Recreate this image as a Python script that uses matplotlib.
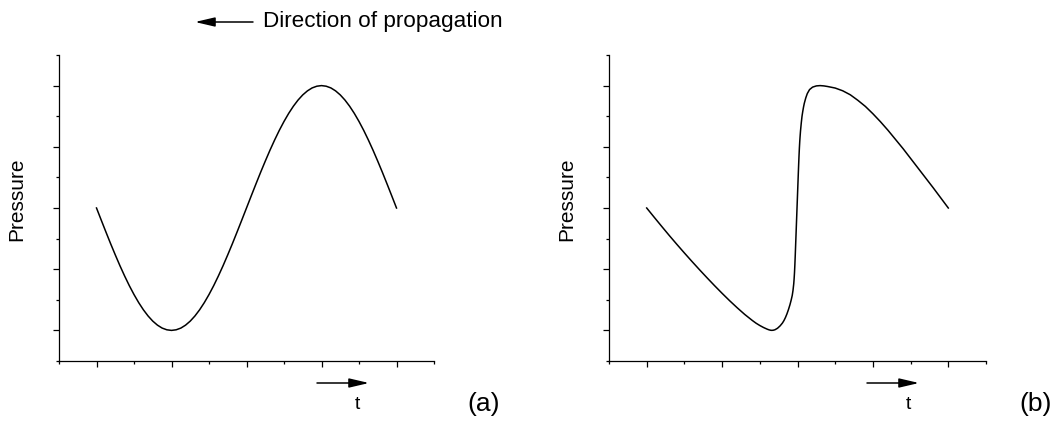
import matplotlib
matplotlib.use("Agg")
import matplotlib.pyplot as plt
from matplotlib.ticker import MultipleLocator, NullFormatter

plt.rcParams['font.family'] = ['Liberation Sans', 'DejaVu Sans']

# (a) sinusoidal pressure wave
t_a = [1.0, 1.0625, 1.125, 1.1875, 1.25, 1.3125, 1.375, 1.4375,
       1.5, 1.5625, 1.625, 1.6875, 1.75, 1.8125, 1.875, 1.9375,
       2.0, 2.0625, 2.125, 2.1875, 2.25, 2.3125, 2.375, 2.4375,
       2.5, 2.5625, 2.625, 2.6875, 2.75, 2.8125, 2.875, 2.9375,
       3.0, 3.0625, 3.125, 3.1875, 3.25, 3.3125, 3.375, 3.4375,
       3.5, 3.5625, 3.625, 3.6875, 3.75, 3.8125, 3.875, 3.9375,
       4.0, 4.0625, 4.125, 4.1875, 4.25, 4.3125, 4.375, 4.4375,
       4.5, 4.5625, 4.625, 4.6875, 4.75, 4.8125, 4.875, 4.9375, 5.0]
p_a = [0.0, -0.196, -0.390, -0.581, -0.765, -0.943, -1.111, -1.269,
       -1.414, -1.546, -1.663, -1.764, -1.848, -1.914, -1.962, -1.990,
       -2.0, -1.990, -1.962, -1.914, -1.848, -1.764, -1.663, -1.546,
       -1.414, -1.269, -1.111, -0.943, -0.765, -0.581, -0.390, -0.196,
       0.0, 0.196, 0.390, 0.581, 0.765, 0.943, 1.111, 1.269,
       1.414, 1.546, 1.663, 1.764, 1.848, 1.914, 1.962, 1.990,
       2.0, 1.990, 1.962, 1.914, 1.848, 1.764, 1.663, 1.546,
       1.414, 1.269, 1.111, 0.943, 0.765, 0.581, 0.390, 0.196, 0.0]

# (b) steepened wave with a shock front
t_b = [1.0, 1.1, 1.2, 1.3, 1.4, 1.5, 1.6, 1.7, 1.8, 1.9, 2.0,
       2.1, 2.2, 2.3, 2.4, 2.45, 2.5, 2.55, 2.6, 2.625, 2.65, 2.675,
       2.70, 2.735, 2.77, 2.80, 2.82, 2.84, 2.86, 2.88, 2.90, 2.915, 2.93,
       2.94, 2.95, 2.955, 2.96, 2.965, 2.97, 2.98, 2.99, 3.00, 3.01,
       3.015, 3.02, 3.025, 3.03, 3.035, 3.04, 3.05, 3.06, 3.07, 3.08,
       3.09, 3.11, 3.13, 3.16, 3.20, 3.25, 3.30, 3.35, 3.40, 3.50,
       3.60, 3.70, 3.80, 3.90, 4.0, 4.1, 4.2, 4.3, 4.4, 4.5,
       4.6, 4.7, 4.8, 4.9, 5.0]
p_b = [0.0, -0.152, -0.302, -0.450, -0.594, -0.735, -0.873, -1.008, -1.140, -1.269, -1.394,
       -1.515, -1.630, -1.739, -1.837, -1.882, -1.920, -1.953, -1.981, -1.992, -1.999, -1.998,
       -1.99, -1.965, -1.925, -1.88, -1.84, -1.79, -1.73, -1.66, -1.58, -1.51, -1.43,
       -1.35, -1.24, -1.16, -1.06, -0.93, -0.78, -0.45, -0.12, 0.21, 0.54,
       0.70, 0.85, 0.98, 1.09, 1.18, 1.26, 1.39, 1.50, 1.58, 1.65,
       1.71, 1.80, 1.87, 1.935, 1.975, 1.995, 2.0, 1.995, 1.985, 1.96,
       1.915, 1.85, 1.76, 1.66, 1.54, 1.41, 1.27, 1.12, 0.97, 0.81,
       0.65, 0.49, 0.33, 0.165, 0.0]

W, H = 1059, 423
fig = plt.figure(figsize=(W / 100, H / 100), dpi=100)


def px(x, y):
    # pixel position (from top-left) -> figure fraction
    return (x / W, 1 - y / H)


def make_axes(left, right, top=55, bottom=361):
    ax = fig.add_axes([left / W, 1 - bottom / H, (right - left) / W, (bottom - top) / H])
    ax.set_xlim(0.5, 5.5)
    ax.set_ylim(-2.5, 2.5)
    for side in ('top', 'right'):
        ax.spines[side].set_visible(False)
    for side in ('left', 'bottom'):
        ax.spines[side].set_linewidth(0.9)
    ax.xaxis.set_major_locator(MultipleLocator(1))
    ax.xaxis.set_minor_locator(MultipleLocator(0.5))
    ax.yaxis.set_major_locator(MultipleLocator(1))
    ax.yaxis.set_minor_locator(MultipleLocator(0.5))
    ax.xaxis.set_major_formatter(NullFormatter())
    ax.yaxis.set_major_formatter(NullFormatter())
    ax.tick_params(which='major', direction='out', length=4.2, width=0.9)
    ax.tick_params(which='minor', direction='out', length=2.2, width=0.9)
    return ax


ax1 = make_axes(59, 434)
ax1.plot(t_a, p_a, color='black', linewidth=1.1, solid_joinstyle='round')

ax2 = make_axes(609, 986)
ax2.plot(t_b, p_b, color='black', linewidth=1.1, solid_joinstyle='round')

arrow = dict(arrowstyle='-|>,head_length=0.6,head_width=0.14', color='black',
             linewidth=1.1, shrinkA=0, shrinkB=0, mutation_scale=20)

# propagation direction
fig.add_artist(plt.Annotation('', xy=px(195, 22), xytext=px(253, 22),
                              xycoords='figure fraction', arrowprops=arrow))
fig.text(*px(263, 22), 'Direction of propagation', fontsize=16.2,
         ha='left', va='center')

# labels for both panels
for x0, lab_x, t_x, tag_x, tag in [(317, 17, 357, 484, '(a)'),
                                    (867, 567, 908, 1036, '(b)')]:
    fig.text(*px(lab_x, 199), 'Pressure', fontsize=15, rotation=90,
             ha='center', va='center')
    fig.add_artist(plt.Annotation('', xy=px(x0 + 52, 383), xytext=px(x0, 383),
                                  xycoords='figure fraction', arrowprops=arrow))
    fig.text(*px(t_x, 404), 't', fontsize=14, ha='center', va='center')
    fig.text(*px(tag_x, 404), tag, fontsize=19, ha='center', va='center')

fig.savefig('out.png', dpi=100)
